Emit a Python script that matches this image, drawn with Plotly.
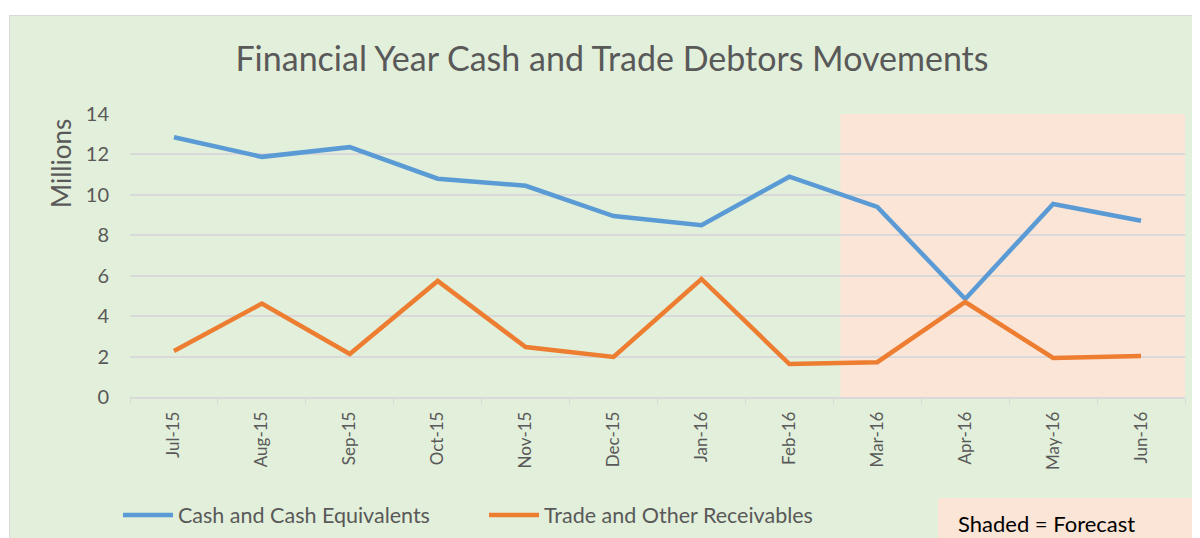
import plotly.graph_objects as go

months = ["Jul-15", "Aug-15", "Sep-15", "Oct-15", "Nov-15", "Dec-15",
          "Jan-16", "Feb-16", "Mar-16", "Apr-16", "May-16", "Jun-16"]
cash = [12.85, 11.88, 12.36, 10.8, 10.45, 8.95, 8.5, 10.9, 9.4, 4.85, 9.55, 8.72]
trade = [2.28, 4.62, 2.13, 5.74, 2.47, 1.98, 5.84, 1.63, 1.72, 4.7, 1.93, 2.03]
y_ticks = [0, 2, 4, 6, 8, 10, 12, 14]
forecast_start = 7.58  # in category index units

FONT = "Lato"
GREY = "#595959"
OFF = 8  # page body margin
W, H = 1200 - OFF, 538 - OFF
L, T = 130 - OFF, 114 - OFF
PW, PH = 1055, 283
R, B = W - L - PW, H - T - PH


def px(x):
    # reference screen pixel -> paper coordinate
    return (x - OFF - L) / PW


def py(y):
    return (T + PH - (y - OFF)) / PH


fig = go.Figure()
fig.add_trace(go.Scatter(x=months, y=cash, mode="lines", name="Cash and Cash Equivalents",
                         line=dict(color="#5B9BD5", width=4.5)))
fig.add_trace(go.Scatter(x=months, y=trade, mode="lines", name="Trade and Other Receivables",
                         line=dict(color="#ED7D31", width=4.5)))

shapes = [
    # white outside strips
    dict(type="rect", xref="paper", yref="paper", x0=px(-5), x1=px(1210), y0=py(-5), y1=py(15),
         fillcolor="white", line=dict(width=0), layer="below"),
    dict(type="rect", xref="paper", yref="paper", x0=px(-5), x1=px(9), y0=py(-5), y1=py(545),
         fillcolor="white", line=dict(width=0), layer="below"),
    dict(type="rect", xref="paper", yref="paper", x0=px(9.5), x1=px(1215), y0=py(15.5), y1=py(550),
         fillcolor="rgba(0,0,0,0)", line=dict(color="#D9D9D9", width=1), layer="below"),
    # forecast shading
    dict(type="rect", xref="x", yref="y", x0=forecast_start, x1=11.5, y0=0, y1=14,
         fillcolor="#FBE5D6", line=dict(width=0), layer="below"),
    # forecast key box
    dict(type="rect", xref="paper", yref="paper", x0=px(938), x1=px(1215), y0=py(498), y1=py(550),
         fillcolor="#FBE5D6", line=dict(width=0), layer="above"),
]

fig.update_layout(
    width=W, height=H,
    margin=dict(l=L, r=R, t=T, b=B, autoexpand=False),
    paper_bgcolor="#E2EFDA",
    plot_bgcolor="rgba(0,0,0,0)",
    font=dict(family=FONT, color=GREY),
    title=dict(text="Financial Year Cash and Trade Debtors Movements",
               x=(612 - OFF) / W, xanchor="center", y=1 - (59 - OFF) / H, yanchor="middle",
               font=dict(size=34, color=GREY, family=FONT)),
    xaxis=dict(type="category", range=[-0.5, 11.5], tickangle=-90,
               tickfont=dict(size=17, color=GREY), showgrid=False,
               showline=True, linecolor="#D9D9D9", linewidth=1.5,
               ticks="outside", tickson="boundaries", ticklen=5, tickcolor="#D9D9D9",
               ticklabelstandoff=6, zeroline=False),
    yaxis=dict(range=[0, 14], tickvals=y_ticks, tickfont=dict(size=20, color=GREY),
               showgrid=True, gridcolor="#D9D9D9", gridwidth=1.5, zeroline=False,
               showline=False, ticklabelstandoff=20),
    legend=dict(orientation="h", x=px(118), xanchor="left", y=py(515), yanchor="middle",
                font=dict(size=21.5, color=GREY), bgcolor="rgba(0,0,0,0)",
                entrywidth=301, entrywidthmode="pixels", itemwidth=50),
    shapes=shapes,
    annotations=[
        dict(text="Millions", xref="paper", yref="paper", x=px(61), y=py(164),
             xanchor="center", yanchor="middle", textangle=-90, showarrow=False,
             font=dict(size=26, color=GREY, family=FONT)),
        dict(text="Shaded = Forecast", xref="paper", yref="paper",
             x=px(956), y=py(523), xanchor="left", yanchor="middle",
             showarrow=False, font=dict(size=22, color="black", family=FONT)),
    ],
)

fig.write_html("out.html")
